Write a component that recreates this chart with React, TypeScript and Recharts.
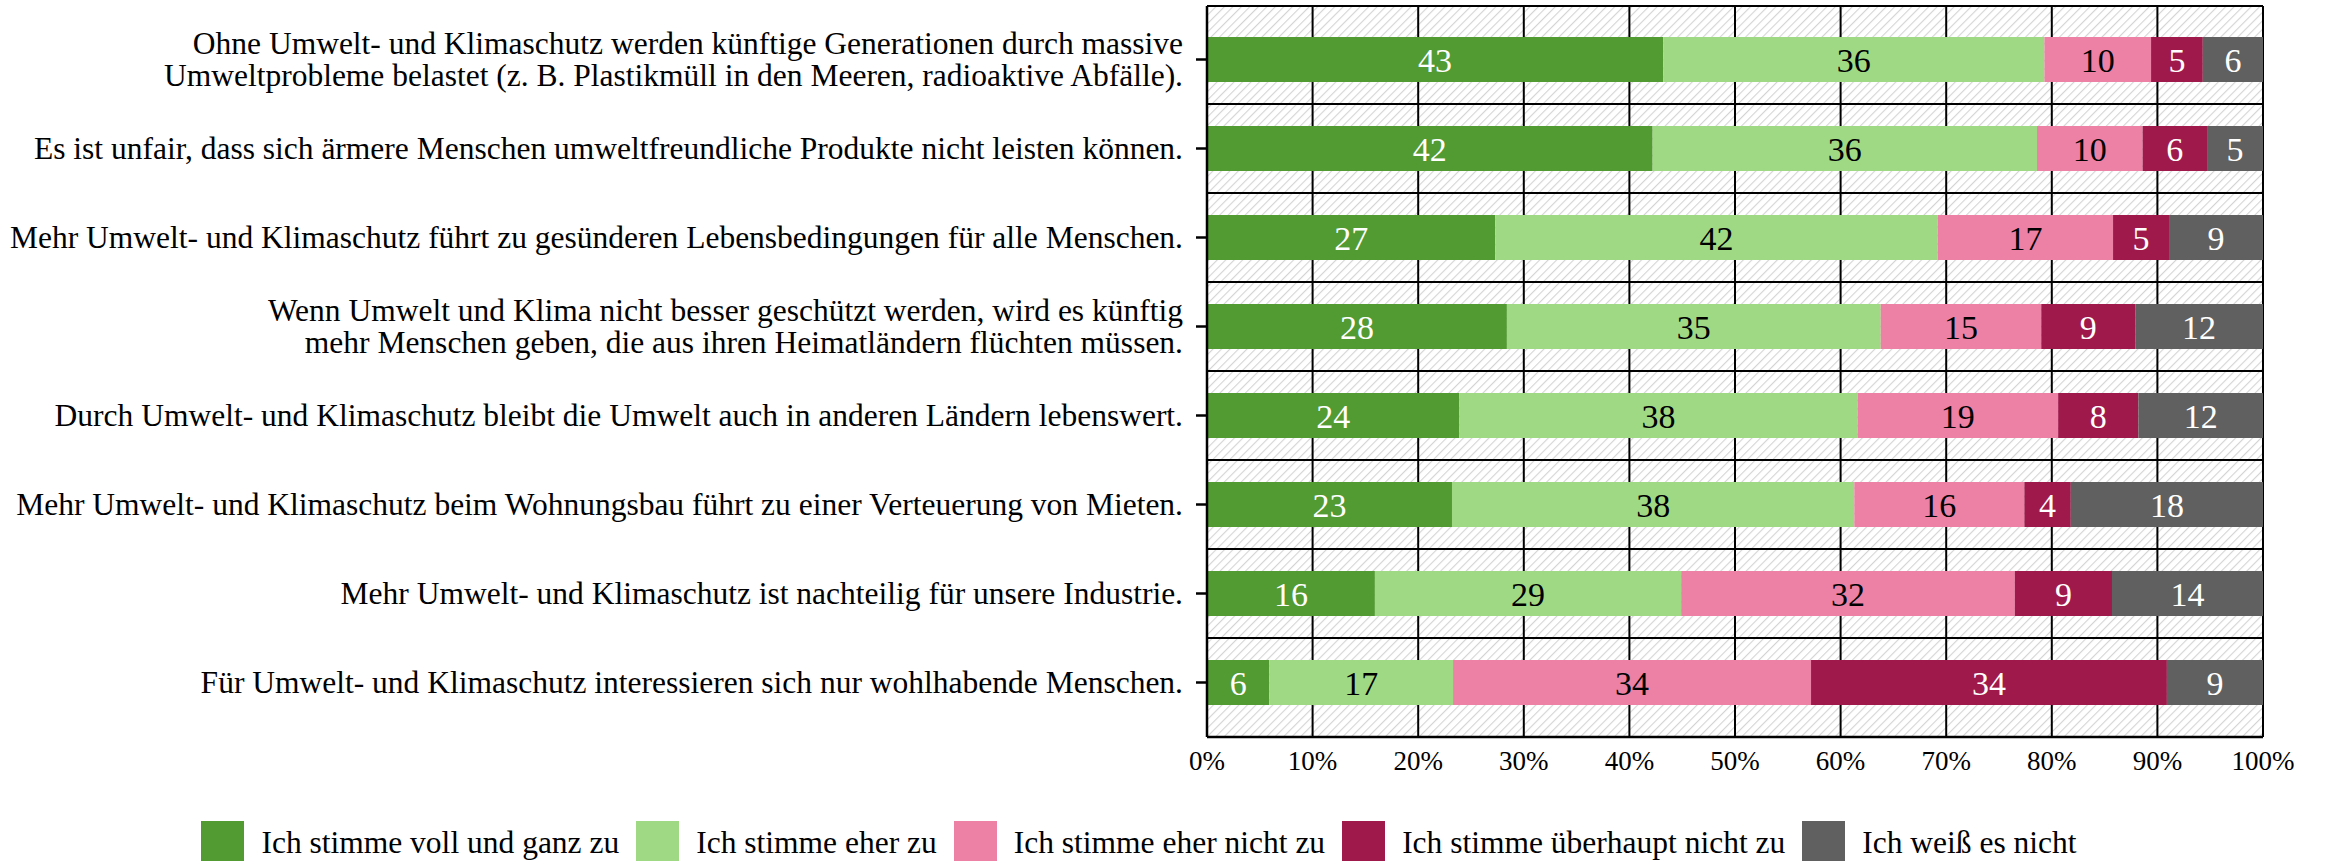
import React from "react";
import { BarChart, Bar, XAxis, YAxis, CartesianGrid, LabelList, Legend } from "recharts";

const categories: string[] = [
  "Ohne Umwelt- und Klimaschutz werden künftige Generationen durch massive\nUmweltprobleme belastet (z. B. Plastikmüll in den Meeren, radioaktive Abfälle).",
  "Es ist unfair, dass sich ärmere Menschen umweltfreundliche Produkte nicht leisten können.",
  "Mehr Umwelt- und Klimaschutz führt zu gesünderen Lebensbedingungen für alle Menschen.",
  "Wenn Umwelt und Klima nicht besser geschützt werden, wird es künftig\nmehr Menschen geben, die aus ihren Heimatländern flüchten müssen.",
  "Durch Umwelt- und Klimaschutz bleibt die Umwelt auch in anderen Ländern lebenswert.",
  "Mehr Umwelt- und Klimaschutz beim Wohnungsbau führt zu einer Verteuerung von Mieten.",
  "Mehr Umwelt- und Klimaschutz ist nachteilig für unsere Industrie.",
  "Für Umwelt- und Klimaschutz interessieren sich nur wohlhabende Menschen.",
];

const seriesNames: string[] = [
  "Ich stimme voll und ganz zu",
  "Ich stimme eher zu",
  "Ich stimme eher nicht zu",
  "Ich stimme überhaupt nicht zu",
  "Ich weiß es nicht",
];

const vollUndGanz: number[] = [43.2, 42.2, 27.3, 28.4, 23.9, 23.2, 15.9, 5.9];
const eher: number[] = [36.1, 36.4, 41.9, 35.4, 37.7, 38.1, 29.0, 17.4];
const eherNicht: number[] = [10.1, 10.0, 16.6, 15.2, 19.0, 16.1, 31.6, 33.9];
const ueberhauptNicht: number[] = [4.9, 6.1, 5.3, 8.9, 7.6, 4.4, 9.2, 33.7];
const weissNicht: number[] = [5.7, 5.3, 8.9, 12.1, 11.8, 18.2, 14.3, 9.1];

const xTicks: number[] = [0, 10, 20, 30, 40, 50, 60, 70, 80, 90, 100];

const colors: string[] = ["#529a32", "#a0d984", "#ed80a5", "#a0194b", "#606060"];
const labelColors: string[] = ["#ffffff", "#000000", "#000000", "#ffffff", "#ffffff"];
const keys: string[] = ["s0", "s1", "s2", "s3", "s4"];

const seriesValues = [vollUndGanz, eher, eherNicht, ueberhauptNicht, weissNicht];

const data = categories.map((name, i) => {
  const row: any = { name };
  seriesValues.forEach((arr, k) => {
    row[keys[k]] = arr[i];
  });
  return row;
});

const FONT = "'Liberation Serif', 'Times New Roman', serif";
const PAD_TOP = 9;
const PAD_BOTTOM = 10;
const LABEL_FS = 31.5;

const YTick = (props: any) => {
  const { x, y, payload } = props;
  const lines = String(payload.value).split("\n");
  const lh = 32;
  return (
    <text x={x} y={y} textAnchor="end" fontFamily={FONT} fontSize={LABEL_FS} fill="#000">
      {lines.map((l, i) => (
        <tspan key={i} x={x} dy={i === 0 ? -((lines.length - 1) * lh) / 2 + 10 : lh}>
          {l}
        </tspan>
      ))}
    </text>
  );
};

const LegendContent = () => {
  return (
    <div style={{ display: "flex", justifyContent: "center", alignItems: "center", fontFamily: FONT, fontSize: LABEL_FS, color: "#000" }}>
      {seriesNames.map((name, i) => (
        <div key={i} style={{ display: "flex", alignItems: "center", marginRight: i < seriesNames.length - 1 ? 17 : 0 }}>
          <div style={{ width: 43, height: 43, background: colors[i], marginRight: 17 }} />
          <span style={{ whiteSpace: "nowrap" }}>{name}</span>
        </div>
      ))}
    </div>
  );
};

const hGen = (args: any) => {
  const { offset } = args;
  const n = categories.length;
  const top = offset.top + PAD_TOP;
  const band = (offset.height - PAD_TOP - PAD_BOTTOM) / n;
  const pts: number[] = [offset.top];
  for (let i = 1; i < n; i++) pts.push(top + band * i);
  pts.push(offset.top + offset.height);
  return pts;
};

export default function App() {
  return (
    <div style={{ position: "absolute", left: 0, top: 0, width: 2328, height: 861 }}>
      <BarChart
        width={2328}
        height={861}
        data={data}
        layout="vertical"
        margin={{ top: 6, right: 65, left: 0, bottom: 64 }}
      >
        <defs>
          <pattern id="hatch" patternUnits="userSpaceOnUse" width={6} height={6} patternTransform="rotate(45)">
            <rect x={0} y={0} width={6} height={6} fill="#ffffff" />
            <line x1={0} y1={0} x2={0} y2={6} stroke="#d4d4d4" strokeWidth={2.2} />
          </pattern>
        </defs>
        <CartesianGrid
          stroke="#000"
          strokeWidth={2}
          fill="url(#hatch)"
          fillOpacity={1}
          horizontalCoordinatesGenerator={hGen}
        />
        <XAxis
          type="number"
          domain={[0, 100]}
          ticks={xTicks}
          tickFormatter={(v: number) => `${v}%`}
          axisLine={{ stroke: "#000", strokeWidth: 2.5 }}
          tickLine={false}
          tickMargin={8}
          height={60}
          interval={0}
          tick={{ fontFamily: FONT, fontSize: 27, fill: "#000" }}
        />
        <YAxis
          type="category"
          dataKey="name"
          width={1207}
          interval={0}
          tickSize={11}
          tickMargin={13}
          padding={{ top: PAD_TOP, bottom: PAD_BOTTOM }}
          axisLine={{ stroke: "#000", strokeWidth: 2.5 }}
          tickLine={{ stroke: "#000", strokeWidth: 2.5 }}
          tick={<YTick />}
        />
        {keys.map((k, idx) => (
          <Bar key={k} dataKey={k} name={seriesNames[idx]} stackId="a" fill={colors[idx]} barSize={45} isAnimationActive={false}>
            <LabelList
              dataKey={k}
              position="center"
              formatter={(v: any) => Math.round(Number(v))}
              style={{ fontFamily: FONT, fontSize: 34, fill: labelColors[idx] }}
              fill={labelColors[idx]}
            />
          </Bar>
        ))}
        <Legend
          layout="horizontal"
          verticalAlign="middle"
          align="center"
          content={<LegendContent />}
          wrapperStyle={{ top: 821, left: 0, width: 2278, height: 43 }}
        />
      </BarChart>
    </div>
  );
}
